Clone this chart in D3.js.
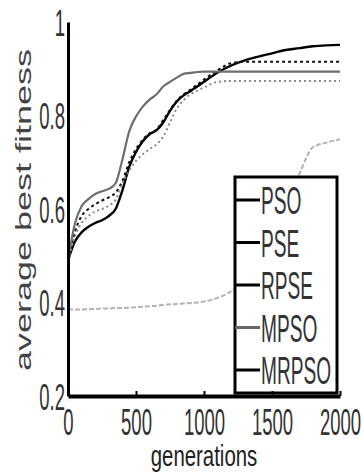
<!DOCTYPE html>
<html>
<head>
<meta charset="utf-8">
<script src="https://cdn.jsdelivr.net/npm/d3@7"></script>
<style>
  html, body { margin: 0; padding: 0; background: #fff; }
  svg { display: block; font-family: "Liberation Sans", Arial, sans-serif; }
</style>
</head>
<body>
<svg id="chart" width="362" height="475"></svg>
<script>
// generations sampled along the x axis
const gens = [0, 50, 100, 150, 200, 250, 300, 350, 400, 450, 500, 550, 600, 650, 700, 750, 800, 850, 900, 950, 1000,
  1100, 1200, 1300, 1400, 1500, 1600, 1700, 1800, 1900, 2000]

const psoVals = [0.49, 0.53, 0.55, 0.562, 0.57, 0.576, 0.585, 0.60, 0.64, 0.69, 0.722, 0.745, 0.76, 0.768, 0.785, 0.81, 0.83, 0.843, 0.852, 0.862, 0.872,
  0.892, 0.907, 0.918, 0.926, 0.933, 0.94, 0.944, 0.948, 0.95, 0.951]
const pseVals = [0.385, 0.385, 0.385, 0.386, 0.386, 0.387, 0.387, 0.388, 0.388, 0.389, 0.39, 0.391, 0.392, 0.393, 0.395, 0.396, 0.397, 0.398, 0.399, 0.40, 0.402,
  0.41, 0.424, 0.45, 0.50, 0.56, 0.62, 0.675, 0.732, 0.742, 0.749]
const rpseVals = [0.49, 0.55, 0.585, 0.60, 0.61, 0.618, 0.625, 0.635, 0.66, 0.70, 0.728, 0.748, 0.762, 0.77, 0.79, 0.812, 0.832, 0.845, 0.855, 0.866, 0.877,
  0.897, 0.912, 0.915, 0.915, 0.915, 0.915, 0.915, 0.915, 0.915, 0.915]
const mpsoVals = [0.49, 0.568, 0.606, 0.621, 0.632, 0.638, 0.643, 0.655, 0.706, 0.766, 0.798, 0.819, 0.834, 0.845, 0.862, 0.872, 0.881, 0.889, 0.891, 0.893, 0.894,
  0.894, 0.894, 0.894, 0.894, 0.894, 0.894, 0.894, 0.894, 0.894, 0.894]
const mrpsoVals = [0.49, 0.54, 0.57, 0.585, 0.595, 0.60, 0.607, 0.62, 0.655, 0.682, 0.703, 0.717, 0.728, 0.738, 0.755, 0.785, 0.815, 0.833, 0.845, 0.853, 0.86,
  0.872, 0.874, 0.874, 0.874, 0.874, 0.874, 0.874, 0.874, 0.874, 0.874]

const seriesNames = ['PSO', 'PSE', 'RPSE', 'MPSO', 'MRPSO']
const xTicks = [0, 500, 1000, 1500, 2000]
const xTickLabels = ['0', '500', '1000', '1500', '2000']
const yTicks = [0.2, 0.4, 0.6, 0.8, 1]
const yTickLabels = ['0.2', '0.4', '0.6', '0.8', '1']

const series = [
  { name: 'PSO', values: psoVals, color: '#000', width: 2.4, dash: null },
  { name: 'PSE', values: pseVals, color: '#b4b4b4', width: 2, dash: '5,2' },
  { name: 'RPSE', values: rpseVals, color: '#111', width: 2, dash: '3,3' },
  { name: 'MPSO', values: mpsoVals, color: '#6e6e6e', width: 2.2, dash: null },
  { name: 'MRPSO', values: mrpsoVals, color: '#8a8a8a', width: 2, dash: '2,3' }
]
const legendColors = ['#000', '#000', '#000', '#666', '#000']

const svg = d3.select('#chart')
const plotLeft = 68, plotRight = 340, plotTop = 22, plotBottom = 396

const x = d3.scaleLinear().domain([0, 2000]).range([plotLeft, plotRight])
const y = d3.scaleLinear().domain([0.2, 1]).range([plotBottom, plotTop])

const line = d3.line()
  .x((d, i) => x(gens[i]))
  .y(d => y(d))
  .curve(d3.curveMonotoneX)

// curves
svg.append('g')
  .selectAll('path')
  .data(series)
  .join('path')
  .attr('fill', 'none')
  .attr('stroke', d => d.color)
  .attr('stroke-width', d => d.width)
  .attr('stroke-dasharray', d => d.dash)
  .attr('d', d => line(d.values))

// legend box (white fill hides the curve behind it)
const lg = svg.append('g')
lg.append('rect')
  .attr('x', 235).attr('y', 177)
  .attr('width', 102).attr('height', 216)
  .attr('fill', '#fff')
  .attr('stroke', '#000')
  .attr('stroke-width', 3)

seriesNames.forEach((name, i) => {
  const ly = 200 + i * 42.5
  lg.append('line')
    .attr('x1', 235).attr('x2', 260)
    .attr('y1', ly).attr('y2', ly)
    .attr('stroke', legendColors[i])
    .attr('stroke-width', 3)
  lg.append('text')
    .attr('transform', `translate(261,${ly + 14}) scale(0.49,1)`)
    .attr('font-size', 39)
    .attr('fill', '#333')
    .text(name)
})

// x axis
const xAxis = d3.axisBottom(x)
  .tickValues(xTicks)
  .tickFormat((d, i) => xTickLabels[i])
  .tickSizeInner(-5)
  .tickSizeOuter(0)

const gx = svg.append('g')
  .attr('transform', `translate(0,${plotBottom})`)
  .call(xAxis)
gx.select('.domain').attr('stroke', '#000').attr('stroke-width', 4)
gx.selectAll('.tick line').attr('stroke', '#000').attr('stroke-width', 2)
gx.selectAll('.tick text')
  .attr('y', 39).attr('dy', 0)
  .attr('transform', 'scale(0.5,1)')
  .attr('font-size', 37)
  .attr('font-family', '"Liberation Sans", Arial, sans-serif')
  .attr('fill', '#333')

// y axis
const yAxis = d3.axisLeft(y)
  .tickValues(yTicks)
  .tickFormat((d, i) => yTickLabels[i])
  .tickSize(0)

const gy = svg.append('g')
  .attr('transform', `translate(${plotLeft},0)`)
  .call(yAxis)
gy.select('.domain').attr('stroke', '#000').attr('stroke-width', 3)
gy.selectAll('.tick text')
  .attr('x', -6).attr('dy', '0.36em')
  .attr('transform', 'scale(0.5,1)')
  .attr('font-size', 37)
  .attr('font-family', '"Liberation Sans", Arial, sans-serif')
  .attr('fill', '#333')

// axis titles
svg.append('text')
  .attr('transform', 'translate(204,466) scale(0.68,1)')
  .attr('text-anchor', 'middle')
  .attr('font-size', 30)
  .attr('fill', '#222')
  .text('generations')

svg.append('text')
  .attr('transform', 'translate(31,210) scale(0.62,1) rotate(-90)')
  .attr('text-anchor', 'middle')
  .attr('font-size', 36)
  .attr('fill', '#444')
  .text('average best fitness')
</script>
</body>
</html>
